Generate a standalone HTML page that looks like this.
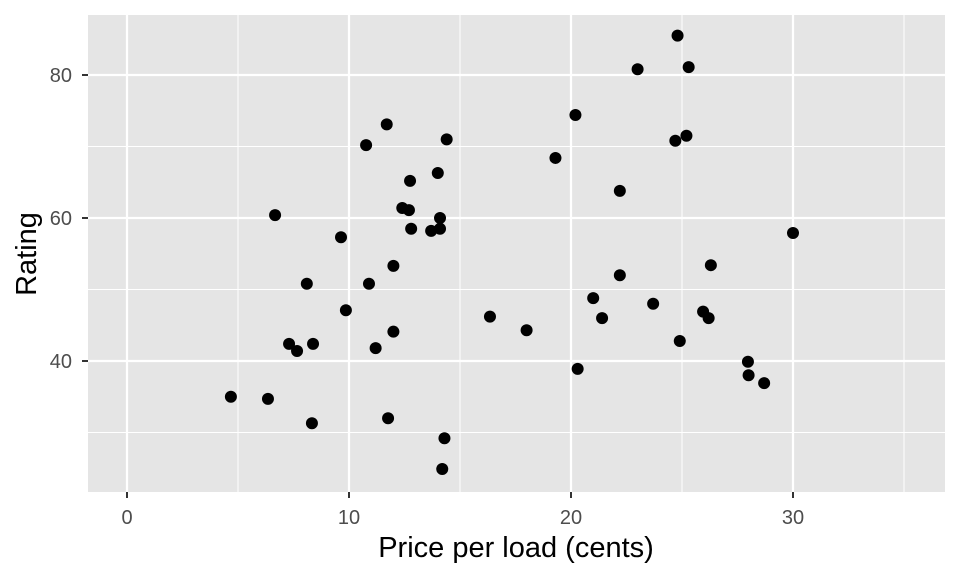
<!DOCTYPE html>
<html><head><meta charset="utf-8"><style>
body{margin:0;background:#fff;font-family:"Liberation Sans",Arial,sans-serif}
</style></head><body>
<svg id="chart" width="960" height="576" xmlns="http://www.w3.org/2000/svg">
<rect x="88" y="15" width="857" height="477" fill="#e5e5e5"/>
<g id="grid"></g><g id="pts"></g><g id="axes"></g>
<text x="516" y="557" font-size="29" text-anchor="middle" fill="#000">Price per load (cents)</text>
<text transform="translate(36,254) rotate(-90)" font-size="29" text-anchor="middle" fill="#000">Rating</text>
</svg>
<script>
const priceValues=[4.68,6.35,6.67,7.3,7.66,8.38,8.33,8.1,9.64,9.86,10.77,10.9,11.2,11.7,11.76,12.0,12.0,12.4,12.7,12.75,12.8,13.7,14.0,14.1,14.1,14.4,14.3,14.2,16.35,18.0,19.3,20.2,20.3,21.0,21.4,22.2,22.2,23.0,23.7,24.7,24.8,24.9,25.2,25.3,25.95,26.2,26.3,27.97,28.0,28.7,30.0];
const ratingValues=[35.0,34.7,60.4,42.4,41.4,42.4,31.3,50.8,57.3,47.1,70.2,50.8,41.8,73.1,32.0,44.1,53.3,61.4,61.1,65.2,58.5,58.2,66.3,60.0,58.5,71.0,29.2,24.9,46.2,44.3,68.4,74.4,38.9,48.8,46.0,63.8,52.0,80.8,48.0,70.8,85.5,42.8,71.5,81.1,46.9,46.0,53.4,39.9,38.0,36.9,57.9];
const xTicks=[0,10,20,30];
const xMinor=[5,15,25,35];
const yTicks=[40,60,80];
const yMinor=[30,50,70];
const xs=v=>127+v*22.2, ys=v=>75+(80-v)*7.15;
const NS="http://www.w3.org/2000/svg";
function mk(t,a,p){const e=document.createElementNS(NS,t);for(const k in a)e.setAttribute(k,a[k]);p.appendChild(e);return e;}
const g=document.getElementById('grid'),ax=document.getElementById('axes'),pts=document.getElementById('pts');
xMinor.forEach(v=>{const l=mk('line',{x1:xs(v),x2:xs(v),y1:15,y2:492,stroke:'#fff','stroke-width':1},g);

});
yMinor.forEach(v=>{const l=mk('line',{x1:88,x2:945,y1:ys(v),y2:ys(v),stroke:'#fff','stroke-width':1},g);

});
xTicks.forEach(v=>{const l=mk('line',{x1:xs(v),x2:xs(v),y1:15,y2:492,stroke:'#fff','stroke-width':2.2},g);


const t=mk('line',{x1:xs(v),x2:xs(v),y1:492,y2:498,stroke:'#333','stroke-width':2},ax);


const tx=mk('text',{x:xs(v),y:524,'font-size':20,'text-anchor':'middle',fill:'#4d4d4d'},ax);tx.textContent=v;

});
yTicks.forEach(v=>{const l=mk('line',{x1:88,x2:945,y1:ys(v),y2:ys(v),stroke:'#fff','stroke-width':2.2},g);


const t=mk('line',{x1:82,x2:88,y1:ys(v),y2:ys(v),stroke:'#333','stroke-width':2},ax);


const tx=mk('text',{x:72,y:ys(v)+7,'font-size':20,'text-anchor':'end',fill:'#4d4d4d'},ax);tx.textContent=v;

});
priceValues.forEach((v,i)=>{const c=mk('circle',{cx:xs(v),cy:ys(ratingValues[i]),r:6,fill:'#000'},pts);

});
</script>
</body></html>
